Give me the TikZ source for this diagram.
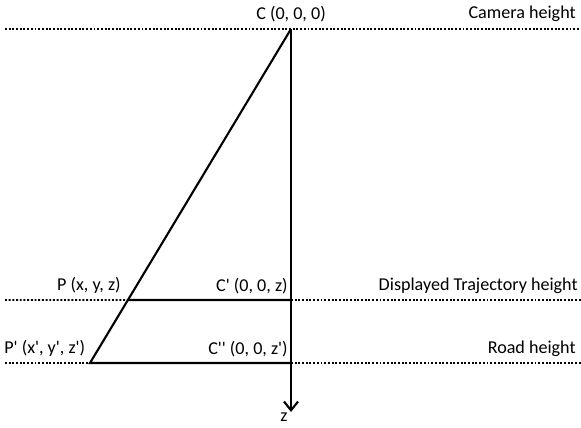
\documentclass[tikz,border=0pt]{standalone}
\usepackage{fontspec}
\setmainfont{Carlito}
\usetikzlibrary{arrows.meta,calc}
\newcommand{\pr}{\textquotesingle}
\tikzset{
  level/.style={densely dotted, line width=1.1pt},
  edge/.style={line width=1.2pt},
  lbl/.style={font=\fontsize{10.3}{12}\selectfont, inner sep=0pt}
}
\begin{document}
\begin{tikzpicture}[x=0.02cm, y=-0.02cm]
    \useasboundingbox (0,0) rectangle (581,428);

    % points on the axis and on the levels
    \coordinate (C) at (291,29);
    \coordinate (Cp) at (291,300);
    \coordinate (Cpp) at (291,363);
    \coordinate (Pp) at (90,363);
    \coordinate (P) at ($(C)!0.8114!(Pp)$);
    \coordinate (zend) at (291,412);

    % level lines
    \coordinate (camL) at (5,29);
    \coordinate (camR) at (581,29);
    \coordinate (dispL) at (5,300);
    \coordinate (dispR) at (581,300);
    \coordinate (roadL) at (5,363);
    \coordinate (roadR) at (581,363);
    \draw[level] (camL) -- (camR);
    \draw[level] (dispL) -- (P);
    \draw[level] (Cp) -- (dispR);
    \draw[level] (roadL) -- (Pp);
    \draw[level] (Cpp) -- (roadR);

    % triangle and z axis
    \draw[edge] (C) -- (Pp) -- (Cpp);
    \draw[edge] (P) -- (Cp);
    \draw[edge, -{Straight Barb[length=5pt, width=8pt]}] (C) -- (zend);

    % labels
    \node[lbl, anchor=south] (labC) at (291,22) {C (0, 0, 0)};
    \node[lbl, anchor=south east] (labCam) at (576,22) {Camera height};
    \node[lbl, anchor=south east] (labP) at (121,294) {P (x, y, z)};
    \node[lbl, anchor=south east] (labCp) at (288,294) {C\pr{} (0, 0, z)};
    \node[lbl, anchor=south east] (labDisp) at (578,294) {Displayed Trajectory height};
    \node[lbl, anchor=south west] (labPp) at (4,357) {P\pr{} (x\pr, y\pr, z\pr)};
    \node[lbl, anchor=south east] (labCpp) at (288,357) {C\pr\pr{} (0, 0, z\pr)};
    \node[lbl, anchor=south east] (labRoad) at (576,357) {Road height};
    \node[lbl, anchor=north] (labz) at (284,413) {z};
\end{tikzpicture}
\end{document}
